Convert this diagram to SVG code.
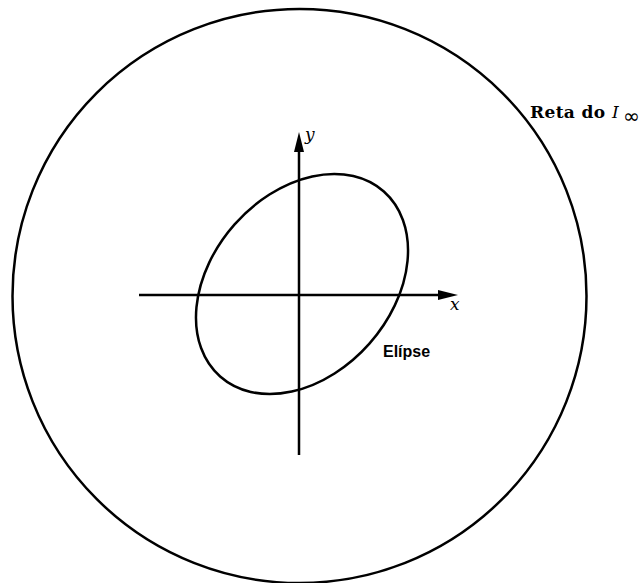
<svg xmlns="http://www.w3.org/2000/svg" width="644" height="583" viewBox="0 0 644 583">
<style>
.ln{fill:none;stroke:#000;stroke-width:2.5}
.math{font-family:"DejaVu Serif","Liberation Serif",serif;font-style:italic;font-size:17px;fill:#000}
.lbl{font-family:"DejaVu Serif","Liberation Serif",serif;font-weight:bold;font-size:17px;fill:#000}
.sans{font-family:"Liberation Sans",Arial,sans-serif;font-weight:bold;font-size:16px;fill:#000}
</style>
<defs>
<marker id="ah" markerWidth="20" markerHeight="10" refX="10" refY="5" orient="auto" markerUnits="userSpaceOnUse" viewBox="0 0 20 10">
<path d="M0,0 L20,5 L0,10 Z" fill="#000"/>
</marker>
</defs>
<g id="infinity-line">
<circle class="ln" cx="299.5" cy="296" r="287"/>
<text x="530" y="118" class="lbl" textLength="75">Reta do</text>
<text x="612" y="118" class="math" font-size="19">I</text>
<text x="623" y="123" font-family="DejaVu Sans, sans-serif" font-size="20" fill="#000">∞</text>
</g>
<g id="ellipse">
<ellipse class="ln" cx="302" cy="284" rx="123.5" ry="90" transform="rotate(-48.5 302 284)"/>
<text x="383" y="357" class="sans">Elípse</text>
</g>
<g id="connectors">
<line class="ln" x1="139" y1="295" x2="448" y2="295" marker-end="url(#ah)"/>
<line class="ln" x1="299" y1="455" x2="299" y2="142" marker-end="url(#ah)"/>
</g>
<g id="labels">
<text x="305" y="140" class="math">y</text>
<text x="450" y="310" class="math">x</text>
</g>
</svg>
